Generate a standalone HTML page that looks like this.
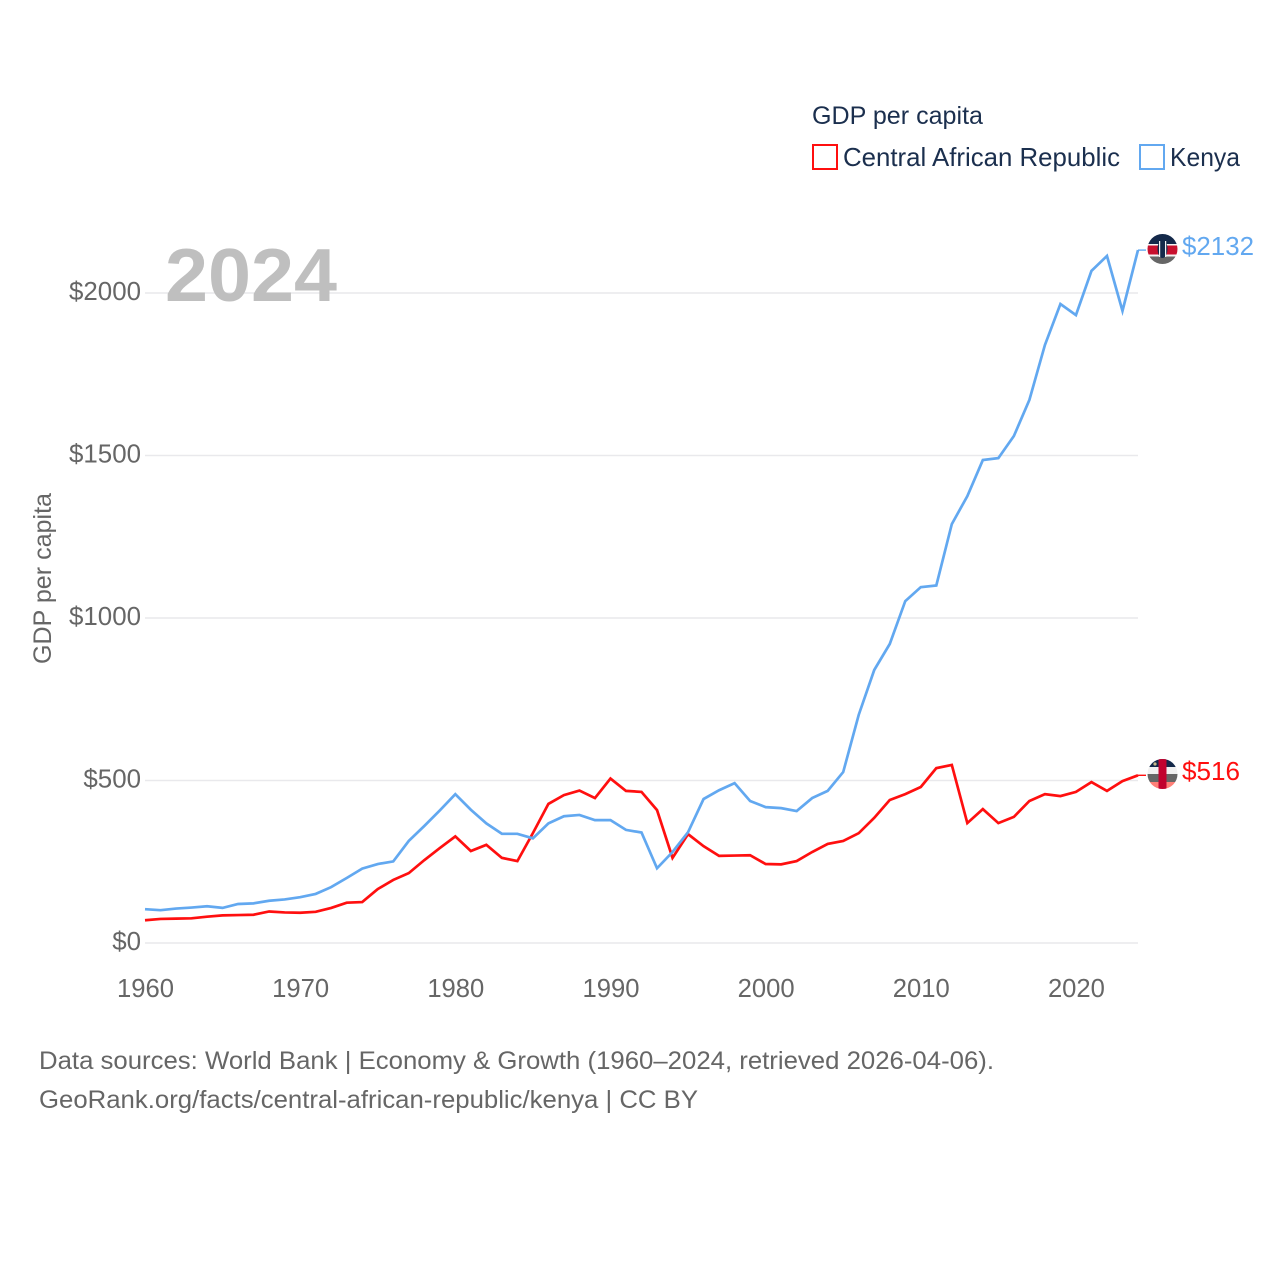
<!DOCTYPE html>
<html lang="en">
<head>
<meta charset="utf-8">
<title>GDP per capita: Central African Republic and Kenya</title>
<style>
  html, body { margin: 0; padding: 0; background: #fff; }
  #chart { display: block; width: 1280px; height: 1280px; font-family: "Liberation Sans", sans-serif; }
</style>
</head>
<body>
<svg id="chart" xmlns="http://www.w3.org/2000/svg" width="1280" height="1280" viewBox="0 0 1280 1280">
  <defs>
    <clipPath id="flag-clip-kenya"><circle cx="1162.5" cy="249" r="15"></circle></clipPath>
    <clipPath id="flag-clip-car"><circle cx="1162.5" cy="774" r="15"></circle></clipPath>
  </defs>
  <rect x="0" y="0" width="1280" height="1280" fill="#ffffff"></rect>
  <g id="grid"></g>
  <g id="y-axis"></g>
  <g id="x-axis"></g>

  <text x="165" y="301" font-size="75" font-weight="bold" fill="#bfbfbf" textLength="172" lengthAdjust="spacingAndGlyphs">2024</text>

  <text transform="translate(51,578.5) rotate(-90)" text-anchor="middle" font-size="25" fill="#666666" textLength="171" lengthAdjust="spacingAndGlyphs">GDP per capita</text>

  <g id="series"></g>

  <g clip-path="url(#flag-clip-kenya)">
    <rect x="1147" y="233" width="31" height="11" fill="#14294a"></rect>
    <rect x="1147" y="244" width="31" height="1.5" fill="#f4f4f4"></rect>
    <rect x="1147" y="245.5" width="31" height="9" fill="#c8102e"></rect>
    <rect x="1147" y="254.5" width="31" height="2" fill="#f4f4f4"></rect>
    <rect x="1147" y="256.5" width="31" height="9" fill="#666666"></rect>
    <ellipse cx="1162.5" cy="249" rx="5" ry="9" fill="#14294a"></ellipse>
    <rect x="1159" y="241" width="1.2" height="16" fill="#f4f4f4"></rect>
    <rect x="1165" y="241" width="1.2" height="16" fill="#f4f4f4"></rect>
  </g>
  <g clip-path="url(#flag-clip-car)">
    <rect x="1147" y="758" width="31" height="9" fill="#14294a"></rect>
    <rect x="1147" y="767" width="31" height="7" fill="#f1f1f1"></rect>
    <rect x="1147" y="774" width="31" height="8" fill="#666666"></rect>
    <rect x="1147" y="782" width="31" height="9" fill="#ff8078"></rect>
    <rect x="1158.5" y="758" width="8" height="33" fill="#c1022e"></rect>
    <circle cx="1155" cy="764" r="1.6" fill="#c9b98a"></circle>
  </g>

  <text id="label-kenya" x="1182" y="255" font-size="26" fill="#62a8f0"></text>
  <text id="label-car" x="1182" y="780" font-size="26" fill="#ff0f0f"></text>

  <g>
    <text x="812" y="124" font-size="25" fill="#1b2f4e" textLength="171" lengthAdjust="spacingAndGlyphs">GDP per capita</text>
    <g>
      <rect x="813" y="145" width="24" height="24" fill="#ffffff" stroke="#ff0f0f" stroke-width="2"></rect>
      <text x="843" y="166" font-size="26" fill="#1b2f4e" textLength="277" lengthAdjust="spacingAndGlyphs">Central African Republic</text>
    </g>
    <g>
      <rect x="1140" y="145" width="24" height="24" fill="#ffffff" stroke="#62a8f0" stroke-width="2"></rect>
      <text x="1170" y="166" font-size="26" fill="#1b2f4e" textLength="70" lengthAdjust="spacingAndGlyphs">Kenya</text>
    </g>
  </g>

  <g>
    <text x="39" y="1069" font-size="25" fill="#666666" textLength="955" lengthAdjust="spacingAndGlyphs">Data sources: World Bank | Economy &amp; Growth (1960–2024, retrieved 2026-04-06).</text>
    <text x="39" y="1108" font-size="25" fill="#666666" textLength="659" lengthAdjust="spacingAndGlyphs">GeoRank.org/facts/central-african-republic/kenya | CC BY</text>
  </g>
</svg>
<script>
const years = [1960,1961,1962,1963,1964,1965,1966,1967,1968,1969,1970,1971,1972,1973,1974,1975,1976,1977,1978,1979,1980,1981,1982,1983,1984,1985,1986,1987,1988,1989,1990,1991,1992,1993,1994,1995,1996,1997,1998,1999,2000,2001,2002,2003,2004,2005,2006,2007,2008,2009,2010,2011,2012,2013,2014,2015,2016,2017,2018,2019,2020,2021,2022,2023,2024];
const kenyaValues = [104,101,106,109,113,108,120,122,130,134,141,151,172,200,229,243,251,314,360,408,458,410,368,336,336,322,368,390,394,378,378,348,340,230,280,341,443,470,492,437,418,415,406,446,468,526,702,840,920,1052,1095,1100,1289,1375,1486,1492,1560,1671,1840,1966,1932,2068,2114,1945,2132];
const carValues = [70,74,75,76,81,85,86,87,97,94,93,96,108,124,126,166,194,215,255,292,328,283,302,262,252,338,428,455,469,446,506,468,465,409,262,335,298,268,269,270,243,242,252,280,305,314,338,385,440,458,480,538,548,369,412,369,388,437,458,452,465,495,468,498,516];
const yTicks = [0,500,1000,1500,2000];
const xTicks = [1960,1970,1980,1990,2000,2010,2020];

const svgNS = 'http://www.w3.org/2000/svg';
function xScale(year) { return 145 + (year - 1960) * (1138 - 145) / 64; }
function yScale(value) { return 943 - value * 0.325; }

const gridGroup = document.getElementById('grid');
const yAxisGroup = document.getElementById('y-axis');
const xAxisGroup = document.getElementById('x-axis');
const seriesGroup = document.getElementById('series');

yTicks.forEach(function (tick) {
  const line = document.createElementNS(svgNS, 'line');
  line.setAttribute('x1', 145);
  line.setAttribute('x2', 1138);
  line.setAttribute('y1', yScale(tick));
  line.setAttribute('y2', yScale(tick));
  line.setAttribute('stroke', '#e9e9ec');
  line.setAttribute('stroke-width', '1.4');
  
  
  gridGroup.appendChild(line);

  const label = document.createElementNS(svgNS, 'text');
  const labelText = '$' + tick;
  label.textContent = labelText;
  label.setAttribute('x', 141);
  label.setAttribute('y', yScale(tick) + 7);
  label.setAttribute('text-anchor', 'end');
  label.setAttribute('font-size', '26');
  label.setAttribute('fill', '#666666');
  label.setAttribute('textLength', 14.4 * labelText.length);
  label.setAttribute('lengthAdjust', 'spacingAndGlyphs');
  
  
  yAxisGroup.appendChild(label);
});

xTicks.forEach(function (tick) {
  const label = document.createElementNS(svgNS, 'text');
  label.textContent = String(tick);
  label.setAttribute('x', xScale(tick) + 0.5);
  label.setAttribute('y', 997);
  label.setAttribute('text-anchor', 'middle');
  label.setAttribute('font-size', '26');
  label.setAttribute('fill', '#666666');
  label.setAttribute('textLength', 57);
  label.setAttribute('lengthAdjust', 'spacingAndGlyphs');
  
  
  xAxisGroup.appendChild(label);
});

function linePoints(values) {
  return values.map(function (value, i) {
    return xScale(years[i]).toFixed(2) + ',' + yScale(value).toFixed(2);
  }).join(' ');
}

const carLine = document.createElementNS(svgNS, 'polyline');
carLine.setAttribute('points', linePoints(carValues));
carLine.setAttribute('fill', 'none');
carLine.setAttribute('stroke', '#ff0f0f');
carLine.setAttribute('stroke-width', '2.7');
carLine.setAttribute('stroke-linejoin', 'miter');


seriesGroup.appendChild(carLine);

const kenyaLine = document.createElementNS(svgNS, 'polyline');
kenyaLine.setAttribute('points', linePoints(kenyaValues));
kenyaLine.setAttribute('fill', 'none');
kenyaLine.setAttribute('stroke', '#62a8f0');
kenyaLine.setAttribute('stroke-width', '2.7');
kenyaLine.setAttribute('stroke-linejoin', 'miter');


seriesGroup.appendChild(kenyaLine);

const carLast = carValues[carValues.length - 1];
const kenyaLast = kenyaValues[kenyaValues.length - 1];

const carConnector = document.createElementNS(svgNS, 'line');
carConnector.setAttribute('x1', xScale(2024));
carConnector.setAttribute('x2', xScale(2024) + 8);
carConnector.setAttribute('y1', yScale(carLast));
carConnector.setAttribute('y2', yScale(carLast));
carConnector.setAttribute('stroke', '#ff0f0f');
carConnector.setAttribute('stroke-width', '1.4');


seriesGroup.appendChild(carConnector);

const kenyaConnector = document.createElementNS(svgNS, 'line');
kenyaConnector.setAttribute('x1', xScale(2024));
kenyaConnector.setAttribute('x2', xScale(2024) + 8);
kenyaConnector.setAttribute('y1', yScale(kenyaLast));
kenyaConnector.setAttribute('y2', yScale(kenyaLast));
kenyaConnector.setAttribute('stroke', '#62a8f0');
kenyaConnector.setAttribute('stroke-width', '1.4');


seriesGroup.appendChild(kenyaConnector);

const labelKenya = document.getElementById('label-kenya');
labelKenya.textContent = '$' + kenyaLast;
labelKenya.setAttribute('textLength', 72);
labelKenya.setAttribute('lengthAdjust', 'spacingAndGlyphs');

const labelCar = document.getElementById('label-car');
labelCar.textContent = '$' + carLast;
labelCar.setAttribute('textLength', 58);
labelCar.setAttribute('lengthAdjust', 'spacingAndGlyphs');
</script>
</body>
</html>
